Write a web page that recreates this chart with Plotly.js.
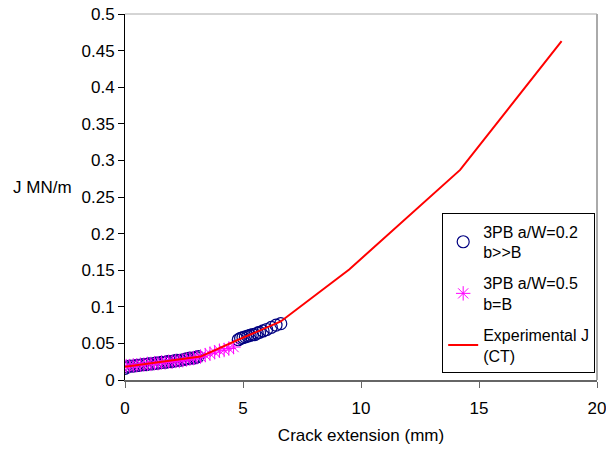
<!DOCTYPE html>
<html><head><meta charset="utf-8">
<script src="https://cdn.plot.ly/plotly-3.0.1.min.js"></script>
<style>html,body{margin:0;padding:0;background:#fff}#chart{width:606px;height:452px}</style>
</head><body><div id="chart"></div>
<script>
const circX = [0.0,0.1,0.2,0.35,0.5,0.6,0.75,0.9,1.0,1.15,1.3,1.4,1.55,1.7,1.8,1.95,2.1,2.2,2.35,2.5,2.6,2.75,2.9,3.0,3.1,
  4.8,4.9,5.0,5.1,5.2,5.3,5.4,5.5,5.6,5.7,5.85,6.0,6.2,6.4,6.6];
const circY = [0.016,0.018,0.019,0.019,0.020,0.020,0.021,0.021,0.022,0.022,0.023,0.023,0.024,0.024,0.025,0.025,0.026,0.027,0.027,0.028,0.029,0.030,0.030,0.031,0.032,
  0.055,0.057,0.058,0.059,0.060,0.061,0.062,0.062,0.064,0.065,0.067,0.069,0.072,0.075,0.077];
const starX = [0.05,0.2,0.35,0.5,0.65,0.8,0.95,1.1,1.25,1.4,1.55,1.7,1.85,2.0,2.15,2.3,2.45,2.6,2.75,2.9,3.05,3.2,3.4,3.6,3.8,4.0,4.2,4.4,4.6];
const starY = [0.019,0.019,0.020,0.020,0.021,0.021,0.022,0.022,0.023,0.023,0.024,0.024,0.025,0.025,0.026,0.026,0.027,0.028,0.029,0.030,0.031,0.032,0.034,0.036,0.038,0.040,0.041,0.043,0.045];
const expX = [0, 3.2, 4.8, 6.6, 9.5, 14.2, 18.5];
const expY = [0.018, 0.032, 0.055, 0.08, 0.151, 0.287, 0.463];
const xTicks = [0,5,10,15,20];
const yTicks = [0,0.05,0.1,0.15,0.2,0.25,0.3,0.35,0.4,0.45,0.5];

const traces = [
  {x: circX, y: circY, type:'scatter', mode:'markers', name:'3PB a/W=0.2<br>b>>B', legendgroup:'a',
   marker:{symbol:'circle-open', size:12, color:'#000080', line:{width:1.2, color:'#000080'}}},
  {x: starX, y: starY, type:'scatter', mode:'markers', name:'3PB a/W=0.5<br>b=B', legendgroup:'b',
   marker:{symbol:'asterisk-open', size:12, color:'#ff00ff', line:{width:1, color:'#ff00ff'}}},
  {x: expX, y: expY, type:'scatter', mode:'lines', name:'Experimental J<br>(CT)', legendgroup:'c',
   line:{color:'#ff0000', width:2}}
];
const layout = {
  width:606, height:452,
  margin:{l:125, r:9, t:14, b:72},
  paper_bgcolor:'#fff', plot_bgcolor:'#fff',
  font:{family:'Liberation Sans, Arial, sans-serif', size:17, color:'#000'},
  showlegend:true,
  legend:{x:0.672, y:0.455, xanchor:'left', yanchor:'top', bgcolor:'#fff',
    bordercolor:'#000', borderwidth:1, font:{size:16}, traceorder:'grouped', tracegroupgap:7,
    itemwidth:30},
  xaxis:{range:[0,20], tickvals:xTicks, ticks:'outside', ticklen:6, tickcolor:'#666',
    showline:true, linecolor:'#666', linewidth:2, showgrid:false, zeroline:false,
    ticklabelstandoff:6, ticklabeloverflow:'allow',
    title:{text:'Crack extension (mm)', font:{size:17}, standoff:12}},
  yaxis:{range:[0,0.5], tickvals:yTicks, ticktext:yTicks.map(String), ticks:'outside', ticklen:6,
    tickcolor:'#000', showline:true, linecolor:'#000', linewidth:1, showgrid:false, zeroline:false},
  shapes:[
    {type:'line', xref:'paper', yref:'paper', x0:0, x1:1, y0:1, y1:1, line:{color:'#aaa', width:1}},
    {type:'line', xref:'paper', yref:'paper', x0:1, x1:1, y0:0, y1:1, line:{color:'#aaa', width:2}}
  ],
  annotations:[
    {text:'J MN/m', xref:'paper', yref:'paper', x:-0.242, y:0.525, xanchor:'left', yanchor:'middle',
     showarrow:false, font:{size:17}}
  ]
};
Plotly.newPlot('chart', traces, layout, {displayModeBar:false, staticPlot:true});
</script></body></html>
